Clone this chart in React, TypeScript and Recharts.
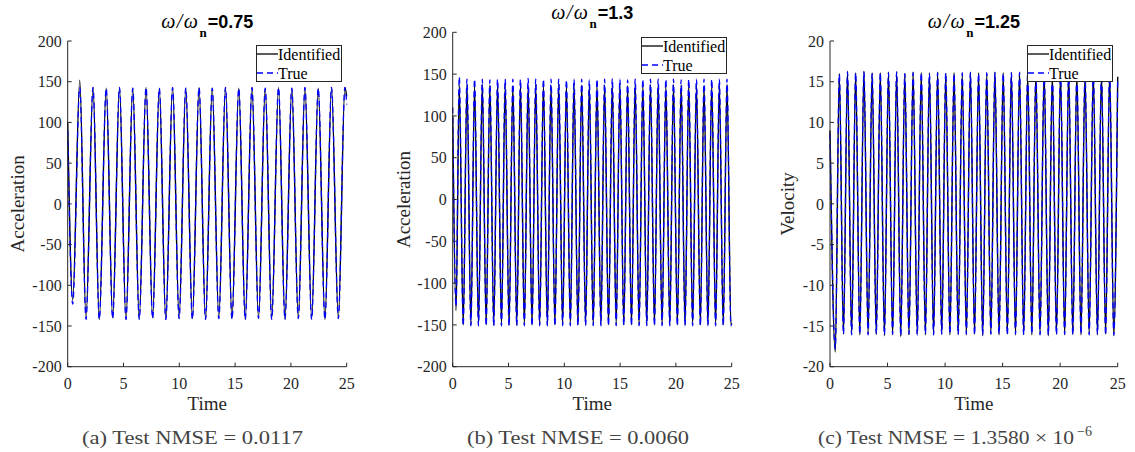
import React from 'react';
import { LineChart, Line, XAxis, YAxis, Legend } from 'recharts';

const FONT = 'Liberation Serif, Times New Roman, serif';
const SANS = 'Liberation Sans, Arial, sans-serif';
const AXIS = '#262626';
const CHART_H = 430;
const Y_AXIS_W = 40;
const X_AXIS_H = 30;

const timeTicks = [0, 5, 10, 15, 20, 25];
const accelTicks = [-200, -150, -100, -50, 0, 50, 100, 150, 200];
const velTicks = [-20, -15, -10, -5, 0, 5, 10, 15, 20];

// (a) w/wn = 0.75, peaks and troughs
const timeA = [
  0, 0.45, 1.08, 1.64, 2.27, 2.83, 3.45, 4.03, 4.64, 5.22, 5.83, 6.41, 7.02, 7.61, 8.21, 8.79,
  9.4, 9.98, 10.58, 11.17, 11.77, 12.35, 12.95, 13.54, 14.14, 14.72, 15.33, 15.91, 16.51, 17.1,
  17.7, 18.28, 18.89, 19.47, 20.08, 20.66, 21.26, 21.86, 22.45, 23.05, 23.64, 24.25, 24.84, 25,
];
const identifiedA = [
  100, -118, 152, -140, 143, -142, 142, -140, 143, -142, 142, -141, 143, -140, 142, -142,
  143, -140, 142, -141, 143, -142, 142, -140, 143, -141, 142, -142, 143, -140,
  142, -141, 143, -142, 142, -140, 143, -141, 142, -142, 143, -140, 143, 132,
];
const trueA = [
  90, -123, 143, -142, 143, -142, 142, -141, 143, -142, 142, -142, 143, -141, 142, -142,
  143, -141, 142, -142, 143, -142, 142, -141, 143, -142, 142, -142, 143, -141,
  142, -142, 143, -142, 142, -141, 143, -142, 142, -142, 143, -141, 143, 122,
];

// (b) w/wn = 1.3
const timeB = [
  0, 0.3,
  0.59, 0.94, 1.28, 1.63, 1.96, 2.31, 2.65, 3.0, 3.33, 3.68, 4.02, 4.37, 4.7, 5.05, 5.39, 5.74, 6.07, 6.42, 6.76, 7.11,
  7.44, 7.79, 8.13, 8.48, 8.81, 9.16, 9.5, 9.85, 10.19, 10.54, 10.87, 11.22, 11.56, 11.91, 12.24, 12.59, 12.93, 13.28, 13.61, 13.96,
  14.3, 14.65, 14.98, 15.33, 15.67, 16.02, 16.35, 16.7, 17.04, 17.39, 17.72, 18.08, 18.41, 18.76, 19.1, 19.45, 19.78, 20.13, 20.47, 20.82,
  21.15, 21.5, 21.84, 22.19, 22.52, 22.87, 23.21, 23.56, 23.89, 24.24, 24.58, 24.93,
  25,
];
const identifiedB = [
  100, -133,
  137, -150, 138, -150, 136, -150, 138, -150, 137, -150, 138, -150, 137, -150, 136, -150, 138, -150, 137, -150,
  138, -150, 137, -150, 136, -150, 138, -150, 137, -150, 138, -150, 137, -150, 136, -150, 138, -150, 137, -150,
  138, -150, 137, -150, 136, -150, 138, -150, 137, -150, 138, -150, 137, -150, 136, -150, 138, -150, 137, -150,
  138, -150, 137, -150, 136, -150, 138, -150, 137, -150, 138, -150,
  -148,
];
const trueB = [
  110, -128,
  147, -151, 144, -151, 144, -151, 144, -151, 143, -151, 144, -151, 144, -151, 144, -151, 144, -151, 145, -151,
  144, -151, 144, -151, 144, -151, 144, -151, 143, -151, 144, -151, 144, -151, 143, -151, 144, -151, 144, -151,
  145, -151, 144, -151, 143, -151, 144, -151, 144, -151, 144, -151, 144, -151, 144, -151, 144, -151, 143, -151,
  144, -151, 144, -151, 144, -151, 144, -151, 144, -151, 144, -151,
  -149,
];

// (c) w/wn = 1.25
const timeC = [
  0, 0.46,
  0.81, 1.17, 1.52, 1.88, 2.23, 2.59, 2.95, 3.31, 3.66, 4.02, 4.37, 4.73, 5.08, 5.44, 5.79, 6.15, 6.5, 6.86, 7.22, 7.58,
  7.93, 8.29, 8.64, 9.0, 9.35, 9.71, 10.06, 10.42, 10.78, 11.14, 11.49, 11.85, 12.2, 12.56, 12.91, 13.27, 13.62, 13.98, 14.33, 14.69,
  15.05, 15.41, 15.76, 16.12, 16.47, 16.83, 17.18, 17.54, 17.89, 18.25, 18.61, 18.97, 19.32, 19.68, 20.03, 20.39, 20.74, 21.1, 21.45, 21.81,
  22.16, 22.52, 22.88, 23.24, 23.59, 23.95, 24.3, 24.66,
  25,
];
const identifiedC = [
  9.0, -18.2,
  16.0, -16.0, 16.3, -16.0, 16.1, -16.1, 16.3, -16.0, 16.1, -16.0, 16.1, -16.2, 16.2, -16.1, 16.2, -16.3, 16.0, -16.1, 16.2, -16.0,
  16.1, -16.1, 16.1, -16.0, 16.2, -16.0, 16.0, -16.1, 16.1, -16.0, 16.0, -16.1, 16.2, -16.0, 16.1, -16.2, 16.0, -16.0, 16.2, -16.1,
  16.1, -16.0, 16.1, -16.1, 16.2, -16.0, 16.0, -16.1, 16.1, -16.0, 16.2, -16.2, 16.0, -16.0, 16.1, -16.1, 16.2, -16.0, 16.1, -16.1,
  16.0, -16.0, 16.2, -16.1, 16.1, -16.0, 16.1, -16.2,
  15.6,
];
const trueC = [
  8.6, -17.8,
  15.9, -16.0, 16.2, -16.1, 16.1, -16.0, 16.2, -16.1, 16.0, -16.0, 16.1, -16.1, 16.1, -16.0, 16.2, -16.2, 16.0, -16.0, 16.1, -16.1,
  16.1, -16.0, 16.0, -16.1, 16.1, -16.0, 16.1, -16.0, 16.0, -16.1, 16.1, -16.0, 16.1, -16.1, 16.0, -16.1, 16.1, -16.0, 16.1, -16.0,
  16.0, -16.1, 16.1, -16.0, 16.1, -16.1, 16.0, -16.0, 16.1, -16.1, 16.1, -16.1, 16.0, -16.1, 16.1, -16.0, 16.1, -16.1, 16.0, -16.0,
  16.1, -16.1, 16.1, -16.0, 16.0, -16.1, 16.1, -16.1,
  15.5,
];

const seriesStyle: Record<string, { color: string; dash?: string }> = {
  Identified: { color: '#000000' },
  True: { color: '#0000ff', dash: '6 4' },
};

const serif = (size: number) => ({ fontFamily: FONT, fontSize: size });

const XTick = (props: any) => (
  <text x={props.x} y={props.y} dy="0.71em" textAnchor="middle" fill={AXIS} style={serif(16)}>
    {props.payload.value}
  </text>
);

const YTick = (props: any) => (
  <text x={props.x} y={props.y} dy="0.355em" textAnchor="end" fill={AXIS} style={serif(16)}>
    {props.payload.value}
  </text>
);

const renderLegend = (props: any) => {
  const names: string[] = (props.payload || []).map((p: any) => p.value);
  return (
    <svg width={86} height={37} style={{ display: 'block' }}>
      <rect x={0.5} y={0.5} width={85} height={36} fill="#fff" stroke={AXIS} strokeWidth={1} />
      {names.map((name, i) => (
        <g key={name}>
          <line x1={1} x2={22} y1={9 + i * 19} y2={9 + i * 19} stroke={seriesStyle[name].color} strokeWidth={1.3} strokeDasharray={seriesStyle[name].dash} />
          <text x={22} y={9 + i * 19} dy="0.355em" fill="#000" style={serif(16)}>
            {name}
          </text>
        </g>
      ))}
    </svg>
  );
};

type PanelProps = {
  chartLeft: number;
  chartWidth: number;
  plotLeft: number;
  plotTop: number;
  plotRight: number;
  plotBottom: number;
  times: number[];
  identified: number[];
  truth: number[];
  yTicks: number[];
  yLabel: string;
  yLabelOffset: number;
  legendLeft: number;
  legendTop: number;
};

function Panel(p: PanelProps) {
  const identified = p.times.map((t, i) => ({ t, v: p.identified[i] }));
  const truth = p.times.map((t, i) => ({ t, v: p.truth[i] }));
  const margin = {
    top: p.plotTop,
    left: p.plotLeft - p.chartLeft - Y_AXIS_W,
    right: p.chartLeft + p.chartWidth - p.plotRight,
    bottom: CHART_H - p.plotBottom - X_AXIS_H,
  };
  const yDomain = [p.yTicks[0], p.yTicks[p.yTicks.length - 1]];
  return (
    <div style={{ position: 'absolute', left: p.chartLeft, top: 0 }}>
      <LineChart width={p.chartWidth} height={CHART_H} margin={margin}>
        <XAxis
          xAxisId="b"
          type="number"
          dataKey="t"
          domain={[0, 25]}
          ticks={timeTicks}
          interval={0}
          height={X_AXIS_H}
          tickSize={-4}
          tickMargin={15}
          stroke={AXIS}
          tick={<XTick />}
          label={{ value: 'Time', position: 'bottom', offset: 0, style: { ...serif(19), fill: AXIS } }}
        />
        <XAxis xAxisId="t" orientation="top" type="number" dataKey="t" domain={[0, 25]} ticks={timeTicks} interval={0} height={0} tickSize={-4} tick={false} stroke={AXIS} />
        <YAxis
          yAxisId="l"
          type="number"
          domain={yDomain}
          ticks={p.yTicks}
          interval={0}
          width={Y_AXIS_W}
          tickSize={-4}
          tickMargin={10}
          stroke={AXIS}
          tick={<YTick />}
          label={{ value: p.yLabel, angle: -90, position: 'left', offset: p.yLabelOffset, style: { ...serif(19), textAnchor: 'middle', fill: AXIS } }}
        />
        <YAxis yAxisId="r" orientation="right" type="number" domain={yDomain} ticks={p.yTicks} interval={0} width={0} tickSize={-4} tick={false} stroke={AXIS} />
        <Line
          xAxisId="b"
          yAxisId="l"
          data={identified}
          dataKey="v"
          name="Identified"
          type="monotone"
          stroke={seriesStyle.Identified.color}
          strokeWidth={1.4}
          dot={false}
          isAnimationActive={false}
        />
        <Line
          xAxisId="b"
          yAxisId="l"
          data={truth}
          dataKey="v"
          name="True"
          type="monotone"
          stroke={seriesStyle.True.color}
          strokeWidth={1.3}
          strokeDasharray={seriesStyle.True.dash}
          dot={false}
          isAnimationActive={false}
        />
        <Legend
          layout="horizontal"
          align="center"
          verticalAlign="middle"
          content={renderLegend}
          wrapperStyle={{ left: p.legendLeft, top: p.legendTop, width: 86, height: 37 }}
        />
      </LineChart>
    </div>
  );
}

function Title({ cx, y, value }: { cx: number; y: number; value: string }) {
  return (
    <text x={cx} y={y} textAnchor="middle" fill="#000">
      <tspan style={{ fontFamily: FONT, fontStyle: 'italic', fontSize: 20, letterSpacing: 1.5 }}>ω/ω</tspan>
      <tspan style={{ fontFamily: FONT, fontWeight: 'bold', fontSize: 13 }} dy={9}>n</tspan>
      <tspan style={{ fontFamily: SANS, fontWeight: 'bold', fontSize: 18 }} dy={-9} dx={1}>={value}</tspan>
    </text>
  );
}

export default function App() {
  return (
    <div style={{ position: 'absolute', left: 0, top: 0, width: 1135, height: 452, background: '#fff', overflow: 'hidden' }}>
      <Panel
        chartLeft={0}
        chartWidth={380}
        plotLeft={67.7}
        plotTop={41}
        plotRight={346.7}
        plotBottom={366.7}
        times={timeA}
        identified={identifiedA}
        truth={trueA}
        yTicks={accelTicks}
        yLabel="Acceleration"
        yLabelOffset={10.7}
        legendLeft={256}
        legendTop={45}
      />
      <Panel
        chartLeft={380}
        chartWidth={375}
        plotLeft={452.7}
        plotTop={32.3}
        plotRight={731.7}
        plotBottom={366.7}
        times={timeB}
        identified={identifiedB}
        truth={trueB}
        yTicks={accelTicks}
        yLabel="Acceleration"
        yLabelOffset={9.7}
        legendLeft={261}
        legendTop={37}
      />
      <Panel
        chartLeft={755}
        chartWidth={380}
        plotLeft={830}
        plotTop={41}
        plotRight={1117.7}
        plotBottom={366.7}
        times={timeC}
        identified={identifiedC}
        truth={trueC}
        yTicks={velTicks}
        yLabel="Velocity"
        yLabelOffset={2.5}
        legendLeft={271.7}
        legendTop={45}
      />
      <svg width={1135} height={452} style={{ position: 'absolute', left: 0, top: 0, pointerEvents: 'none' }}>
        <Title cx={207.2} y={28} value="0.75" />
        <Title cx={592.2} y={18.5} value="1.3" />
        <Title cx={973.9} y={28} value="1.25" />
        <g style={serif(19)} fill="#444">
          <text x={192.5} y={444} textAnchor="middle" textLength={221} lengthAdjust="spacingAndGlyphs">(a) Test NMSE = 0.0117</text>
          <text x={578} y={444} textAnchor="middle" textLength={222} lengthAdjust="spacingAndGlyphs">(b) Test NMSE = 0.0060</text>
          <text x={818} y={444} textLength={256} lengthAdjust="spacingAndGlyphs">(c) Test NMSE = 1.3580 × 10</text>
          <text x={1077} y={436} style={serif(14)}>−6</text>
        </g>
      </svg>
    </div>
  );
}
